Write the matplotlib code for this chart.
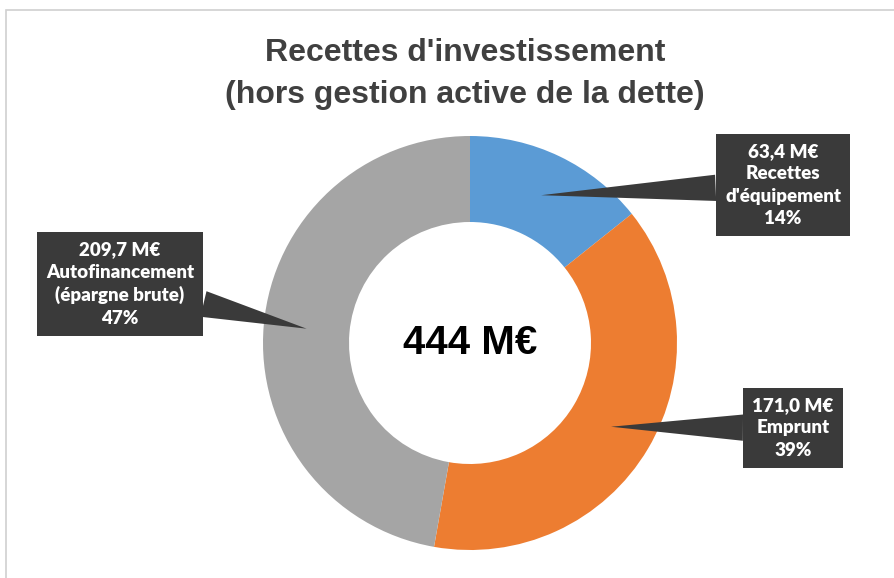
import numpy as np
import matplotlib.pyplot as plt
from matplotlib.patches import Rectangle

title = "Recettes d'investissement\n(hors gestion active de la dette)"
labels = ["Recettes\nd'équipement", "Emprunt", "Autofinancement\n(épargne brute)"]
values = [63.4, 171.0, 209.7]
percents = ["14%", "39%", "47%"]
colors = ["#5B9BD5", "#ED7D31", "#A5A5A5"]
total_label = "444 M€"

fig = plt.figure(figsize=(8.94, 5.78), dpi=100)
ax = fig.add_axes([0, 0, 1, 1])

# thin frame like the excel chart area
fig.patches.append(Rectangle((6 / 894, -0.01), 1.0, (578 - 10) / 578 + 0.01,
                             transform=fig.transFigure, fill=False,
                             ec="#d0d0d0", lw=1.2))

cx, cy, r_out, r_in = 470, 235, 207, 121
wedges, _ = ax.pie(values, colors=colors, startangle=90, counterclock=False,
                   center=(cx, cy), radius=r_out,
                   wedgeprops=dict(width=r_out - r_in, edgecolor="none"),
                   frame=True)
ax.set_xlim(0, 894)
ax.set_ylim(0, 578)
ax.set_aspect("equal")
ax.axis("off")

ax.text(cx, cy, total_label, ha="center", va="center", fontsize=29,
        fontweight="bold", family="Liberation Sans", color="black")

fig.text(0.52, 0.872, title, ha="center", va="center", fontsize=23,
         fontweight="bold", family="Liberation Sans", color="#404040",
         linespacing=1.5)

box_pos = [(783, 393), (793, 150), (120, 294)]
r_mid = (r_out + r_in) / 2
for w, lab, v, p, pos in zip(wedges, labels, values, percents, box_pos):
    ang = np.deg2rad((w.theta1 + w.theta2) / 2)
    tip = (cx + r_mid * np.cos(ang), cy + r_mid * np.sin(ang))
    txt = f"{v:.1f}".replace(".", ",") + " M€\n" + lab + "\n" + p
    ax.annotate(txt, xy=tip, xytext=pos, ha="center", va="center",
                fontsize=13.5, fontweight="heavy", family="Lato", color="white",
                linespacing=1.38,
                bbox=dict(boxstyle="square,pad=0.5", fc="#3a3a3a", ec="none"),
                arrowprops=dict(arrowstyle="wedge,tail_width=1.4,shrink_factor=0.5",
                                fc="#3a3a3a", ec="none", shrinkA=0, shrinkB=0))

fig.savefig("out.png", dpi=100)
